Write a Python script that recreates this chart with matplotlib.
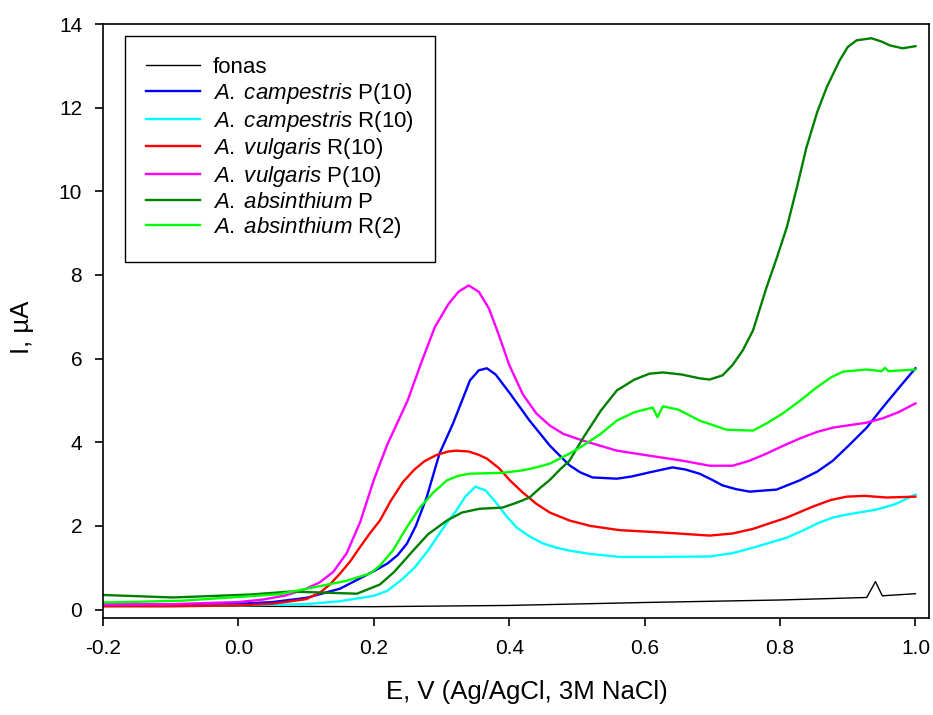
import numpy as np
import matplotlib
matplotlib.use('Agg')
import matplotlib.pyplot as plt

plt.rcParams['font.family'] = ['Liberation Sans', 'DejaVu Sans']
plt.rcParams['mathtext.fontset'] = 'custom'
plt.rcParams['mathtext.rm'] = 'Liberation Sans'
plt.rcParams['mathtext.it'] = 'Liberation Sans:italic'

# =======================================================
# Curves: potential (V) and current (uA)
fonas_E = [-0.2, 0.0, 0.2, 0.4, 0.6, 0.8, 0.928, 0.941, 0.951, 1.0]
fonas_I = [0.1, 0.08, 0.07, 0.1, 0.17, 0.23, 0.29, 0.67, 0.33, 0.38]

camp_P_E = [-0.2, -0.1, 0.0, 0.05, 0.1, 0.15, 0.18, 0.2, 0.22, 0.235, 0.249,
            0.262, 0.278, 0.297, 0.317, 0.342, 0.355, 0.367, 0.38, 0.401,
            0.43, 0.46, 0.489, 0.505, 0.523, 0.559, 0.58, 0.607, 0.641, 0.66,
            0.681, 0.7, 0.715, 0.735, 0.755, 0.795, 0.829, 0.855, 0.878, 0.9,
            0.928, 0.95, 0.976, 1.0]
camp_P_I = [0.12, 0.12, 0.14, 0.18, 0.28, 0.5, 0.75, 0.92, 1.1, 1.3, 1.58,
            2.0, 2.68, 3.73, 4.45, 5.48, 5.72, 5.77, 5.62, 5.17,
            4.52, 3.92, 3.45, 3.28, 3.16, 3.13, 3.18, 3.28, 3.4, 3.35,
            3.25, 3.1, 2.97, 2.88, 2.82, 2.87, 3.09, 3.3, 3.56, 3.9,
            4.35, 4.8, 5.31, 5.77]

camp_R_E = [-0.2, -0.1, 0.0, 0.1, 0.15, 0.2, 0.22, 0.24, 0.26, 0.28, 0.297,
            0.31, 0.322, 0.335, 0.35, 0.365, 0.382, 0.395, 0.411, 0.43, 0.45,
            0.47, 0.489, 0.52, 0.563, 0.62, 0.696, 0.73, 0.76, 0.785, 0.81,
            0.835, 0.858, 0.878, 0.898, 0.942, 0.97, 1.0]
camp_R_I = [0.08, 0.08, 0.1, 0.13, 0.2, 0.33, 0.45, 0.7, 1.0, 1.41, 1.82,
            2.12, 2.37, 2.7, 2.94, 2.85, 2.53, 2.25, 1.96, 1.75, 1.58,
            1.48, 1.41, 1.33, 1.26, 1.26, 1.27, 1.35, 1.48, 1.6, 1.72,
            1.9, 2.08, 2.2, 2.27, 2.39, 2.52, 2.75]

vulg_R_E = [-0.2, -0.1, 0.0, 0.05, 0.1, 0.12, 0.135, 0.15, 0.165, 0.179,
            0.194, 0.209, 0.225, 0.243, 0.26, 0.275, 0.293, 0.31, 0.322, 0.34,
            0.355, 0.367, 0.385, 0.401, 0.42, 0.44, 0.46, 0.489, 0.52, 0.563,
            0.63, 0.696, 0.73, 0.76, 0.81, 0.848, 0.875, 0.898, 0.925, 0.957,
            1.0]
vulg_R_I = [0.08, 0.08, 0.1, 0.14, 0.25, 0.4, 0.6, 0.86, 1.15, 1.48,
            1.82, 2.13, 2.6, 3.05, 3.35, 3.55, 3.7, 3.78, 3.8, 3.78,
            3.7, 3.61, 3.38, 3.09, 2.8, 2.53, 2.32, 2.13, 2.0, 1.9,
            1.84, 1.77, 1.82, 1.93, 2.2, 2.46, 2.62, 2.7, 2.72, 2.68,
            2.7]

vulg_P_E = [-0.2, -0.1, 0.0, 0.036, 0.07, 0.1, 0.12, 0.14, 0.16, 0.18, 0.2,
            0.22, 0.25, 0.27, 0.29, 0.31, 0.325, 0.34, 0.355, 0.37, 0.385,
            0.4, 0.42, 0.44, 0.46, 0.48, 0.509, 0.559, 0.607, 0.656, 0.696,
            0.73, 0.755, 0.78, 0.805, 0.829, 0.855, 0.878, 0.928, 0.951, 0.975,
            1.0]
vulg_P_I = [0.12, 0.13, 0.18, 0.24, 0.34, 0.5, 0.65, 0.9, 1.35, 2.1, 3.1,
            3.95, 5.0, 5.9, 6.75, 7.3, 7.6, 7.75, 7.6, 7.2, 6.55,
            5.85, 5.15, 4.69, 4.4, 4.2, 4.04, 3.8, 3.68, 3.56, 3.44,
            3.44, 3.56, 3.73, 3.92, 4.09, 4.25, 4.35, 4.47, 4.57, 4.72,
            4.93]

absi_P_E = [-0.2, -0.097, 0.017, 0.076, 0.12, 0.175, 0.209, 0.23, 0.258,
            0.28, 0.308, 0.33, 0.356, 0.39, 0.41, 0.43, 0.445, 0.46, 0.475,
            0.489, 0.509, 0.535, 0.559, 0.585, 0.607, 0.627, 0.655, 0.681,
            0.696, 0.715, 0.73, 0.745, 0.76, 0.78, 0.795, 0.81, 0.825, 0.839,
            0.855, 0.869, 0.888, 0.9, 0.913, 0.935, 0.95, 0.962, 0.981, 1.0]
absi_P_I = [0.35, 0.29, 0.36, 0.43, 0.41, 0.38, 0.6, 0.9, 1.41,
            1.8, 2.13, 2.32, 2.41, 2.44, 2.55, 2.68, 2.9, 3.1, 3.35,
            3.56, 4.1, 4.75, 5.24, 5.5, 5.64, 5.67, 5.62, 5.53,
            5.5, 5.6, 5.85, 6.2, 6.67, 7.7, 8.4, 9.14, 10.1, 11.05,
            11.9, 12.49, 13.13, 13.45, 13.61, 13.66, 13.58, 13.49, 13.42, 13.47]

absi_R_E = [-0.2, -0.086, 0.061, 0.16, 0.194, 0.209, 0.228, 0.248, 0.268,
            0.288, 0.308, 0.325, 0.342, 0.39, 0.42, 0.44, 0.46, 0.489, 0.509,
            0.535, 0.559, 0.585, 0.612, 0.619, 0.627, 0.65, 0.681, 0.721,
            0.76, 0.78, 0.804, 0.83, 0.854, 0.875, 0.893, 0.928, 0.95, 0.955,
            0.96, 1.0]
absi_R_I = [0.17, 0.21, 0.37, 0.69, 0.86, 1.05, 1.41, 1.95, 2.44,
            2.8, 3.09, 3.2, 3.25, 3.27, 3.33, 3.4, 3.49, 3.73, 3.92,
            4.2, 4.52, 4.72, 4.83, 4.6, 4.86, 4.78, 4.52, 4.3,
            4.28, 4.45, 4.69, 5.0, 5.31, 5.55, 5.69, 5.74, 5.7, 5.78,
            5.7, 5.74]

series = [
    (fonas_E, fonas_I, 'black', 'fonas', 1.0),
    (camp_P_E, camp_P_I, '#0000FF', r'$\mathit{A.\;campestris}$ P(10)', 1.7),
    (camp_R_E, camp_R_I, '#00FFFF', r'$\mathit{A.\;campestris}$ R(10)', 1.7),
    (vulg_R_E, vulg_R_I, '#FF0000', r'$\mathit{A.\;vulgaris}$ R(10)', 1.7),
    (vulg_P_E, vulg_P_I, '#FF00FF', r'$\mathit{A.\;vulgaris}$ P(10)', 1.7),
    (absi_P_E, absi_P_I, '#008000', r'$\mathit{A.\;absinthium}$ P', 1.7),
    (absi_R_E, absi_R_I, '#00FF00', r'$\mathit{A.\;absinthium}$ R(2)', 1.7),
]

# ========================================================
fig = plt.figure(figsize=(9.33, 7.15), dpi=100)
ax = fig.add_axes([0.1104, 0.1357, 0.8853, 0.8307])

for E, I, col, lab, lw in series:
    ax.plot(E, I, color=col, lw=lw, label=lab)

ax.set_xlim(-0.2, 1.02)
ax.set_ylim(-0.2, 14)
ax.set_xticks(np.arange(-0.2, 1.01, 0.2))
ax.set_xticklabels(['-0.2', '0.0', '0.2', '0.4', '0.6', '0.8', '1.0'])
ax.set_yticks(np.arange(0, 15, 2))
ax.tick_params(direction='out', length=6, width=1.2, labelsize=15, pad=9)
for sp in ax.spines.values():
    sp.set_linewidth(1.2)

ax.set_xlabel('E, V (Ag/AgCl, 3M NaCl)', fontsize=18.5)
ax.xaxis.set_label_coords(0.513, -0.105)
ax.set_ylabel('I, µA', fontsize=18.5)
ax.yaxis.set_label_coords(-0.084, 0.49)

leg = ax.legend(loc='upper left', bbox_to_anchor=(0.0266, 0.98), fontsize=16,
                frameon=True, fancybox=False, edgecolor='black', framealpha=1,
                handlelength=2.4, labelspacing=0.12, borderpad=0.96,
                handletextpad=0.6, borderaxespad=0)
leg.get_frame().set_linewidth(1.0)

plt.savefig('out.png', dpi=100)
